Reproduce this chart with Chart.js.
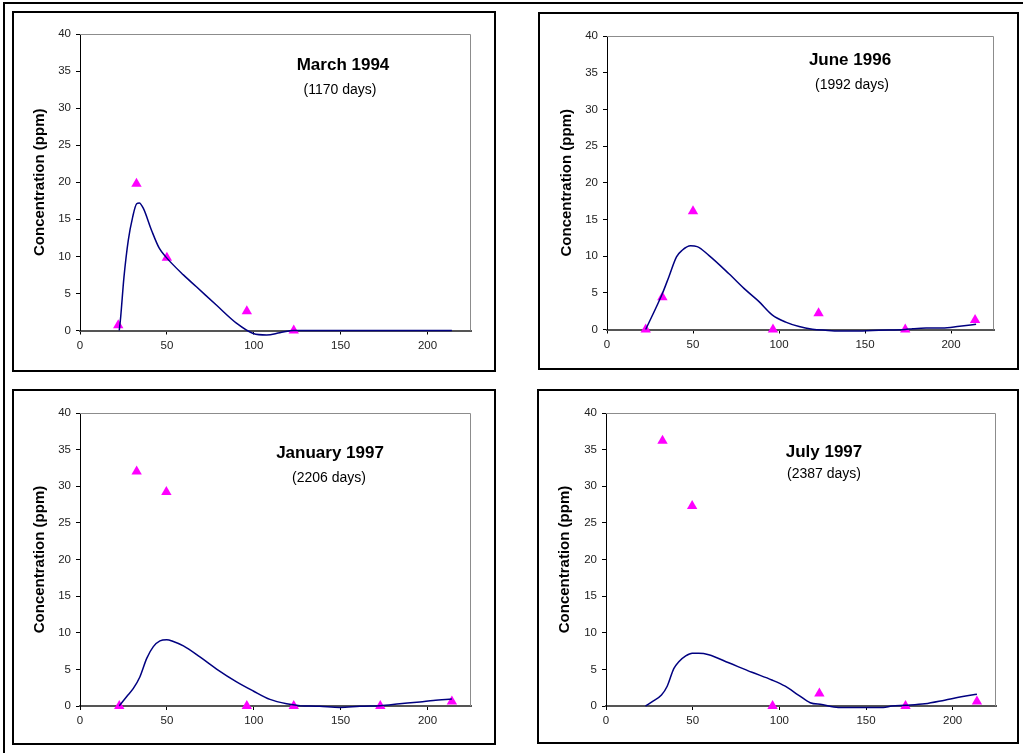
<!DOCTYPE html>
<html lang="en">
<head>
  <meta charset="UTF-8">
  <title>Concentration profiles</title>
  <script src="https://cdn.jsdelivr.net/npm/chart.js"></script>
  <style>
    body { margin: 0; background: #fff; overflow: hidden; }
    #frame { position: absolute; left: 3px; top: 2px; width: 1040px; height: 780px; border: 2px solid #000; box-sizing: border-box; }
    .box { position: absolute; border: 2px solid #000; box-sizing: border-box; }
    canvas { position: absolute; }
  </style>
</head>
<body>
  <div id="frame"></div>

  <div class="box" style="left:12px; top:11px; width:484px; height:361px;"></div>
  <div class="box" style="left:538px; top:12px; width:481px; height:358px;"></div>
  <div class="box" style="left:12px; top:389px; width:484px; height:356px;"></div>
  <div class="box" style="left:537px; top:389px; width:482px; height:355px;"></div>

  <canvas id="mar94" width="484" height="361" style="left:12px; top:11px;"></canvas>
  <canvas id="jun96" width="481" height="358" style="left:538px; top:12px;"></canvas>
  <canvas id="jan97" width="484" height="356" style="left:12px; top:389px;"></canvas>
  <canvas id="jul97" width="482" height="355" style="left:537px; top:389px;"></canvas>

  <script>
    // model curves (line) and measured values (triangles), days vs ppm
    const mar94LineDays = [22.6, 23.4, 25.3, 27.8, 30.3, 32.6, 34.1, 36.4, 41.2, 45.6, 49.5, 59.5, 67, 78.6, 90, 99.7, 107.4, 115, 123, 150, 180, 214];
    const mar94LineConc = [0, 1.8, 7.2, 12.2, 15.3, 17.1, 17.2, 16.5, 13.5, 11.1, 9.9, 7.5, 5.9, 3.4, 1.0, -0.4, -0.6, -0.3, 0, 0, 0, 0];
    const mar94ObsDays = [22, 32.5, 50, 96, 123];
    const mar94ObsConc = [0.7, 19.8, 9.8, 2.6, 0];

    const jun96LineDays = [22.5, 32.2, 36, 40.4, 43.7, 48.6, 52.4, 59.2, 70.9, 80.6, 88.4, 96, 103.9, 111.7, 119.4, 127, 135, 148.6, 158, 173.4, 177.7, 185.5, 195, 205, 214.6];
    const jun96LineConc = [0, 4.9, 7.2, 9.9, 10.8, 11.4, 11.3, 10.1, 7.6, 5.4, 3.8, 2.0, 1.0, 0.4, 0.05, -0.1, -0.2, -0.2, -0.1, 0, 0.1, 0.2, 0.2, 0.45, 0.7];
    const jun96ObsDays = [22.5, 32.2, 50, 96.5, 123, 173.4, 214];
    const jun96ObsConc = [0, 4.4, 16.1, 0, 2.2, 0, 1.3];

    const jan97LineDays = [22.6, 26.9, 30.7, 34.5, 38.4, 42.2, 46, 49.9, 53.7, 59.5, 69, 78.6, 90.1, 99.7, 109.3, 118.9, 126.6, 138, 149.6, 161, 172.8, 184, 195.6, 203.3, 214];
    const jan97LineConc = [0, 1.3, 2.4, 4.0, 6.5, 8.1, 8.9, 9.05, 8.8, 8.2, 6.7, 5.05, 3.3, 2.05, 0.9, 0.3, 0.05, -0.05, -0.2, -0.05, 0.05, 0.3, 0.55, 0.75, 0.95];
    const jan97ObsDays = [22.6, 32.6, 49.7, 96, 123, 172.8, 214];
    const jan97ObsConc = [0, 32.0, 29.2, 0, 0, 0, 0.6];

    const jul97LineDays = [22.8, 26.7, 32, 35.3, 39.1, 42, 45.8, 49.7, 53.5, 59.3, 70.8, 84.2, 95.7, 103.4, 111, 117.8, 124.5, 134, 147.5, 160, 164.8, 172.8, 184, 195.4, 205, 214];
    const jul97LineConc = [0, 0.6, 1.5, 2.7, 5.1, 6.05, 6.8, 7.2, 7.2, 7.0, 5.9, 4.6, 3.55, 2.7, 1.5, 0.45, 0.2, -0.2, -0.2, -0.2, 0, 0.1, 0.3, 0.8, 1.25, 1.6];
    const jul97ObsDays = [32.6, 49.7, 96.1, 123.1, 172.8, 214];
    const jul97ObsConc = [36.2, 27.3, 0, 1.7, 0, 0.6];

    const FONT = '"Liberation Sans", Arial, sans-serif';

    const toPoints = (xs, ys) => xs.map((x, i) => ({ x, y: ys[i] }));

    // grey top/right edge of the plot area plus the two text lines
    const panelText = {
      id: 'panelText',
      beforeDatasetsDraw(chart) {
        const { ctx, chartArea: a } = chart;
        ctx.save();
        ctx.strokeStyle = '#8c8c8c';
        ctx.lineWidth = 1;
        ctx.beginPath();
        ctx.moveTo(a.left, a.top + 0.5);
        ctx.lineTo(a.right - 0.5, a.top + 0.5);
        ctx.lineTo(a.right - 0.5, a.bottom);
        ctx.stroke();
        ctx.restore();
      },
      afterDraw(chart, args, opts) {
        const ctx = chart.ctx;
        ctx.save();
        ctx.fillStyle = '#000';
        ctx.textAlign = 'center';
        ctx.textBaseline = 'middle';
        ctx.font = 'bold 17px ' + FONT;
        ctx.fillText(opts.title, opts.x, opts.y1);
        ctx.font = '14px ' + FONT;
        ctx.fillText(opts.sub, opts.x2, opts.y2);
        ctx.restore();
      }
    };

    function makePanel(id, lineDays, lineConc, obsDays, obsConc, text, lay) {
      new Chart(document.getElementById(id), {
        type: 'scatter',
        data: {
          datasets: [
            {
              data: toPoints(lineDays, lineConc),
              showLine: true,
              borderColor: '#000080',
              borderWidth: 1.5,
              pointRadius: 0,
              cubicInterpolationMode: 'monotone',
              clip: 10
            },
            {
              data: toPoints(obsDays, obsConc),
              pointStyle: 'triangle',
              pointRadius: 6,
              pointBackgroundColor: '#ff00ff',
              pointBorderColor: '#ff00ff',
              pointBorderWidth: 0,
              clip: false
            }
          ]
        },
        options: {
          responsive: false,
          animation: false,
          layout: { padding: { top: lay.top, right: lay.right, left: 0, bottom: 0 } },
          plugins: {
            legend: { display: false },
            tooltip: { enabled: false },
            panelText: text
          },
          scales: {
            x: {
              type: 'linear',
              min: 0,
              max: 225,
              afterFit: s => { s.height = lay.bottom; },
              border: { color: '#555', width: 2 },
              grid: { drawOnChartArea: false, drawTicks: true, tickLength: 4, color: '#000' },
              ticks: { stepSize: 50, includeBounds: false, padding: 4, color: '#222', font: { family: FONT, size: 11.5 } }
            },
            y: {
              min: 0,
              max: 40,
              afterFit: s => { s.width = lay.left; },
              border: { color: '#000', width: 1 },
              grid: { drawOnChartArea: false, drawTicks: true, tickLength: 4, color: '#000' },
              ticks: { stepSize: 5, padding: 5, color: '#222', font: { family: FONT, size: 11.5 } },
              title: {
                display: true,
                text: 'Concentration (ppm)',
                color: '#000',
                padding: { top: lay.titlePad, bottom: 0 },
                font: { family: FONT, size: 15, weight: 'bold' }
              }
            }
          }
        },
        plugins: [panelText]
      });
    }

    makePanel('mar94', mar94LineDays, mar94LineConc, mar94ObsDays, mar94ObsConc,
      { title: 'March 1994', sub: '(1170 days)', x: 331, y1: 54, x2: 328, y2: 79 },
      { left: 68, right: 25, top: 23, bottom: 41.5, titlePad: 19 });

    makePanel('jun96', jun96LineDays, jun96LineConc, jun96ObsDays, jun96ObsConc,
      { title: 'June 1996', sub: '(1992 days)', x: 312, y1: 48, x2: 314, y2: 73 },
      { left: 69, right: 25, top: 24, bottom: 40.5, titlePad: 20 });

    makePanel('jan97', jan97LineDays, jan97LineConc, jan97ObsDays, jan97ObsConc,
      { title: 'January 1997', sub: '(2206 days)', x: 318, y1: 64, x2: 317, y2: 89 },
      { left: 68, right: 25, top: 24, bottom: 39, titlePad: 19 });

    makePanel('jul97', jul97LineDays, jul97LineConc, jul97ObsDays, jul97ObsConc,
      { title: 'July 1997', sub: '(2387 days)', x: 287, y1: 63, x2: 287, y2: 85 },
      { left: 69, right: 23, top: 24, bottom: 38, titlePad: 19 });
  </script>
</body>
</html>
